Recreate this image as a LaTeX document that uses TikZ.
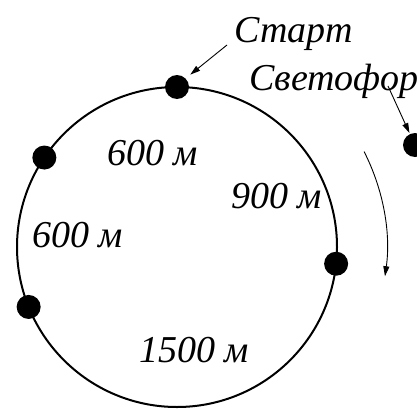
\documentclass[tikz,border=0pt]{standalone}
\usepackage{fontspec}
\setmainfont{Liberation Serif}
\usetikzlibrary{arrows.meta}
\usetikzlibrary{positioning}

\begin{document}
\begin{tikzpicture}[x=1pt,y=1pt,
  dot/.style={circle,fill=black,minimum size=24pt,inner sep=0pt},
  lbl/.style={font=\fontsize{38}{42}\selectfont\itshape,inner sep=0pt,anchor=base west},
  arr/.style={line width=0.9pt,-{Triangle[length=10pt,width=6pt]}}]
\clip (0,0) rectangle (417,408);
\coordinate (O) at (177,161);
\draw[line width=2pt] (O) circle[radius=160];
% points on the track
\node[dot] (start) at ([shift={(90:160)}]O) {};
\node[dot] (pw) at ([shift={(146:160)}]O) {};
\node[dot] (psw) at ([shift={(202:160)}]O) {};
\node[dot] (pe) at ([shift={(-6:160)}]O) {};
\node[dot] (light) at (415,263) {};
% distances
\node[lbl] (d1) at (107,243) {600 м};
\node[lbl] (d2) at (231,200) {900 м};
\node[lbl] (d3) at (32,161) {600 м};
\node[lbl] (d4) at (139,46) {1500 м};
\node[lbl] (tstart) at (234,366) {Старт};
\node[lbl] (tlight) at (249,318) {Светофор};
% pointers
\coordinate (s0) at (227,363);
\draw[arr,shorten >=6pt] (s0) -- (start.45);
\coordinate (l0) at (388,322);
\draw[arr,shorten >=1pt] (l0) -- (light.115);
\coordinate (c0) at ([shift={(27:210)}]O);
\draw[arr] (c0) arc[start angle=27,end angle=-8,radius=210];
\end{tikzpicture}
\end{document}
